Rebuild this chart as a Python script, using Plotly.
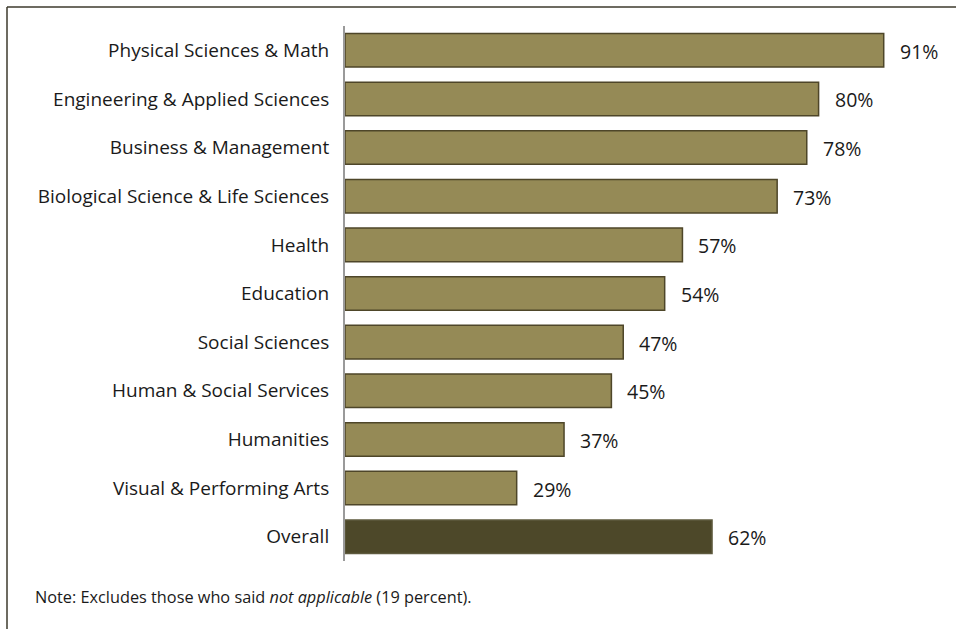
import plotly.graph_objects as go

# Share of respondents by field of study
fields = [
    "Physical Sciences & Math",
    "Engineering & Applied Sciences",
    "Business & Management",
    "Biological Science & Life Sciences",
    "Health",
    "Education",
    "Social Sciences",
    "Human & Social Services",
    "Humanities",
    "Visual & Performing Arts",
    "Overall",
]
percents = [91, 80, 78, 73, 57, 54, 47, 45, 37, 29, 62]

note_text = "Note: Excludes those who said <i>not applicable</i> (19 percent)."

W, H = 956, 629
ML, MR, MT, MB = 345, 19, 26, 68

fill_colors = ["#958a56" if f != "Overall" else "#4d4829" for f in fields]
line_colors = ["#4e4629" if f != "Overall" else "#5e5a3e" for f in fields]

font_family = "Open Sans, Noto Sans, sans-serif"
text_color = "#1a1a1a"

fig = go.Figure(
    go.Bar(
        x=percents,
        y=fields,
        orientation="h",
        width=0.69,
        marker=dict(color=fill_colors, line=dict(color=line_colors, width=1.5)),
        hoverinfo="skip",
    )
)

# value labels to the right of each bar
for f, v in zip(fields, percents):
    fig.add_annotation(
        x=v, y=f, text=f"{v}%", showarrow=False,
        xanchor="left", yanchor="middle", xshift=14, yshift=-1,
        font=dict(size=19.5, color=text_color, family=font_family),
    )

# pixel -> paper helpers for the outer frame and note
pw = W - ML - MR
ph = H - MT - MB


def px_x(p):
    return (p - ML) / pw


def px_y(p):
    return (H - MB - p) / ph


frame_color = "#3c3a2c"
fig.add_shape(type="line", xref="paper", yref="paper",
              x0=px_x(7), x1=px_x(958), y0=px_y(7), y1=px_y(7),
              line=dict(color=frame_color, width=1.5))
fig.add_shape(type="line", xref="paper", yref="paper",
              x0=px_x(7), x1=px_x(7), y0=px_y(7), y1=px_y(632),
              line=dict(color=frame_color, width=1.5))

fig.add_annotation(
    xref="paper", yref="paper", x=px_x(33), y=px_y(597),
    text=note_text, showarrow=False, xanchor="left", yanchor="middle",
    font=dict(size=16.3, color=text_color, family=font_family),
)

fig.update_layout(
    width=W, height=H,
    margin=dict(l=ML, r=MR, t=MT, b=MB),
    paper_bgcolor="white", plot_bgcolor="white",
    showlegend=False,
    bargap=0.31,
    font=dict(family=font_family, color=text_color),
    xaxis=dict(range=[0, 100], visible=False, fixedrange=True),
    yaxis=dict(
        categoryorder="array", categoryarray=fields, autorange="reversed",
        range=[10.5, -0.5],
        showline=True, linecolor="#9a9a9a", linewidth=2,
        showgrid=False, zeroline=False, ticks="",
        ticklabelstandoff=10,
        tickfont=dict(size=19, color=text_color, family=font_family),
        fixedrange=True,
    ),
)

fig.write_html("out.html")
